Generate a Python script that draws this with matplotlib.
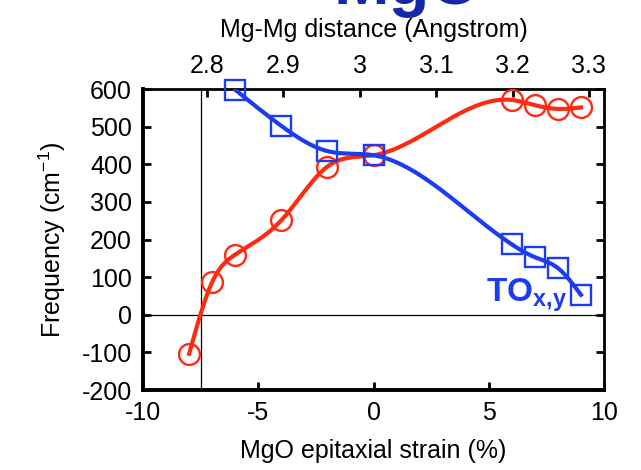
import numpy as np
import matplotlib
matplotlib.use("Agg")
import matplotlib.pyplot as plt

plt.rcParams['font.family'] = ['Liberation Sans', 'DejaVu Sans']
plt.rcParams['mathtext.fontset'] = 'custom'
plt.rcParams['mathtext.rm'] = 'Liberation Sans'
plt.rcParams['mathtext.it'] = 'Liberation Sans:italic'
plt.rcParams['mathtext.bf'] = 'Liberation Sans:bold'
plt.rcParams['axes.unicode_minus'] = False

# --- данные ---
strain_lo = [-8, -7, -6, -4, -2, 0, 6, 7, 8, 9]
freq_lo = [-104, 87, 160, 251, 394, 424, 571, 557, 547, 551]

strain_to = [-6, -4, -2, 0, 6, 7, 8, 9]
freq_to = [598, 502, 435, 424, 187, 153, 124, 53]

d0 = 3.018  # Mg-Mg при нулевой деформации
x_crit = -7.5


def natural_spline(x, y, n=300):
    # натуральный кубический сплайн (как smooth csplines в gnuplot)
    x = np.asarray(x, float)
    y = np.asarray(y, float)
    m = len(x)
    h = np.diff(x)
    A = np.zeros((m, m))
    b = np.zeros(m)
    A[0, 0] = A[-1, -1] = 1
    for i in range(1, m - 1):
        A[i, i - 1] = h[i - 1]
        A[i, i] = 2 * (h[i - 1] + h[i])
        A[i, i + 1] = h[i]
        b[i] = 6 * ((y[i + 1] - y[i]) / h[i] - (y[i] - y[i - 1]) / h[i - 1])
    M = np.linalg.solve(A, b)
    xs = np.linspace(x[0], x[-1], n)
    k = np.clip(np.searchsorted(x, xs) - 1, 0, m - 2)
    t1 = x[k + 1] - xs
    t2 = xs - x[k]
    hk = h[k]
    ys = (M[k] * t1 ** 3 / (6 * hk) + M[k + 1] * t2 ** 3 / (6 * hk)
          + (y[k] / hk - M[k] * hk / 6) * t1 + (y[k + 1] / hk - M[k + 1] * hk / 6) * t2)
    return xs, ys


red = '#ff2a10'
blue = '#1c3cf0'

fig = plt.figure(figsize=(6.41, 4.70), dpi=100)
ax = fig.add_axes([0.2231, 0.1702, 0.7192, 0.6404])

ax.axhline(0, color='black', lw=0.9, zorder=1)
ax.axvline(x_crit, color='black', lw=0.9, zorder=1)

xs, ys = natural_spline(strain_lo, freq_lo)
ax.plot(xs, ys, color=red, lw=3.0, zorder=3)
ax.plot(strain_lo, freq_lo, 'o', ms=15, mfc='none', mec=red, mew=1.7,
        zorder=4, clip_on=False)

xs, ys = natural_spline(strain_to, freq_to)
ax.plot(xs, ys, color=blue, lw=3.0, zorder=3)
ax.plot(strain_to, freq_to, 's', ms=14.5, mfc='none', mec=blue, mew=1.7,
        zorder=4, clip_on=False)

ax.set_xlim(-10, 10)
ax.set_ylim(-200, 600)
ax.set_xticks([-10, -5, 0, 5, 10])
ax.set_yticks(range(-200, 601, 100))
ax.tick_params(axis='both', direction='in', length=6, width=2, labelsize=18,
               top=False, right=True, pad=8)
for side in ['left', 'bottom']:
    ax.spines[side].set_linewidth(2.8)
for side in ['top', 'right']:
    ax.spines[side].set_linewidth(2.0)

ax.set_xlabel('MgO epitaxial strain (%)', fontsize=18, labelpad=10)
ax.set_ylabel('Frequency (cm$^{-1}$)', fontsize=18, labelpad=10)

top = ax.secondary_xaxis('top', functions=(lambda s: d0 * (1 + s / 100),
                                           lambda d: (d / d0 - 1) * 100))
top.set_xticks([2.8, 2.9, 3.0, 3.1, 3.2, 3.3])
top.set_xticklabels(['2.8', '2.9', '3', '3.1', '3.2', '3.3'])
top.tick_params(direction='in', length=6, width=2, labelsize=18, pad=8)
top.set_xlabel('Mg-Mg distance (Angstrom)', fontsize=18, labelpad=12)

ax.text(4.9, 35, r'$\mathbf{TO_{x{,}y}}$', color=blue, fontsize=24)

fig.text(0.635, 0.991, 'MgO', color='#1428a8', fontsize=48, fontweight='bold',
         ha='center', va='baseline')

fig.savefig('out.png', dpi=100)
